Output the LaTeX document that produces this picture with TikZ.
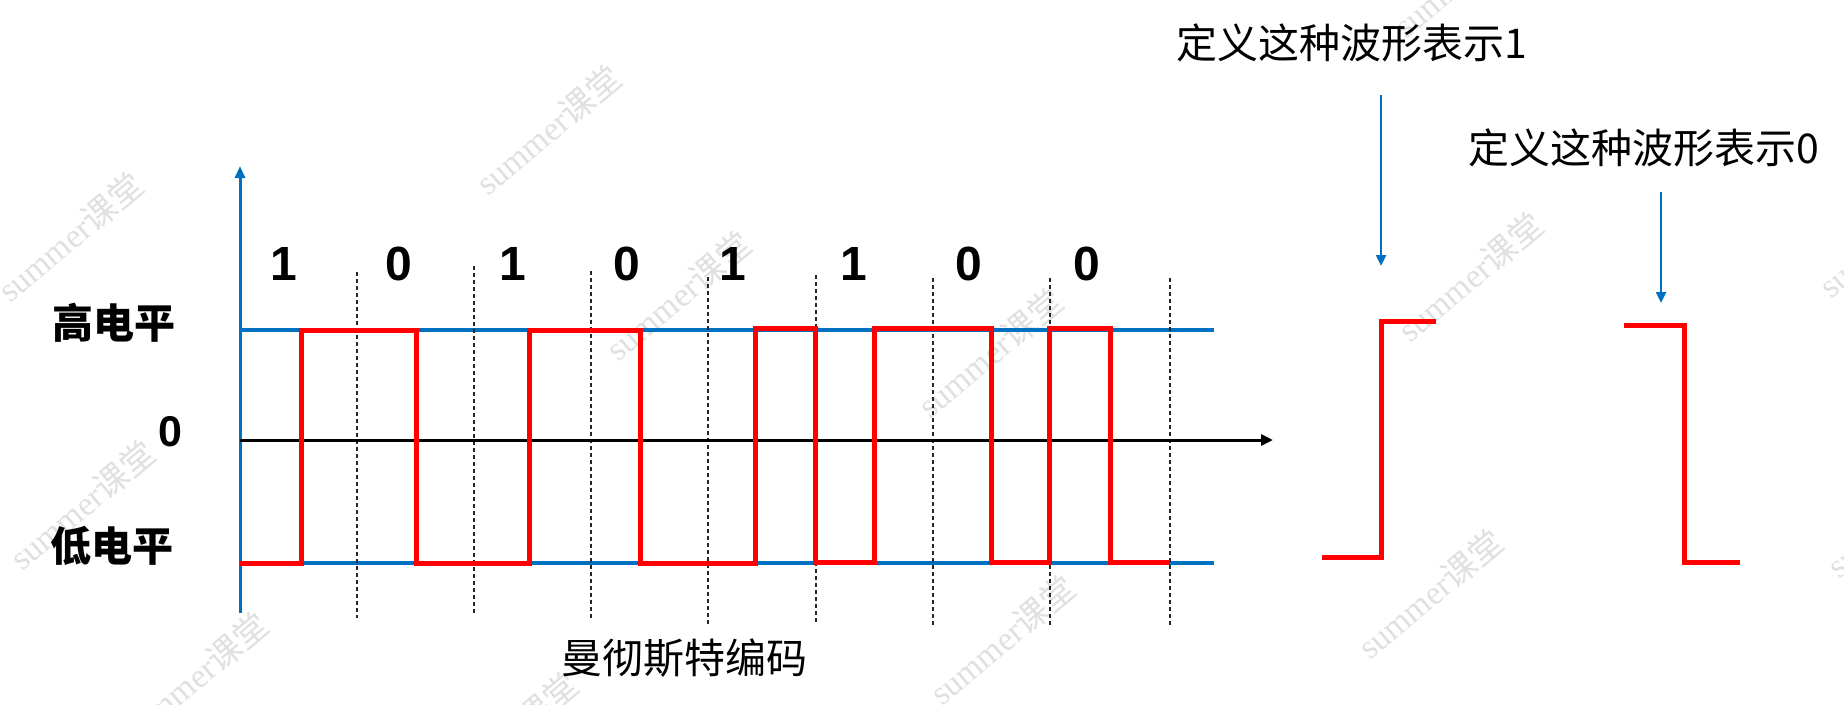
\documentclass[tikz,border=0pt]{standalone}
\usepackage{fontspec}
\setmainfont{Liberation Sans}
\newfontfamily\cjk{Noto Sans CJK SC}
\newfontfamily\wmserif{Liberation Serif}
\usetikzlibrary{arrows.meta}
\definecolor{axblue}{HTML}{0070C0}
\definecolor{sigred}{HTML}{FF0000}
\definecolor{wmgray}{HTML}{E0E0E0}
\begin{document}
\begin{tikzpicture}[x=1pt,y=-1pt,
  lvl/.style={font=\cjk\bfseries\fontsize{41}{41}\selectfont, inner sep=0pt},
  bit/.style={font=\bfseries\fontsize{48}{48}\selectfont, inner sep=0pt},
  zerolbl/.style={font=\bfseries\fontsize{43}{43}\selectfont, inner sep=0pt},
  captxt/.style={font=\cjk\fontsize{41}{41}\selectfont, inner sep=0pt},
  wm/.style={text=wmgray, rotate=40, inner sep=0pt, font=\fontsize{34}{34}\selectfont},
  blueline/.style={draw=axblue, line width=3.5pt},
  axisline/.style={draw=axblue, line width=3pt, -{Triangle[length=12pt,width=10pt]}},
  timeaxis/.style={draw=black, line width=3pt, -{Triangle[length=12pt,width=11pt]}},
  sig/.style={draw=sigred, line width=5pt},
  grid/.style={draw=black!85, line width=1.2pt, dash pattern=on 4pt off 3pt},
  pointer/.style={draw=axblue, line width=2.5pt, -{Triangle[length=11pt,width=10pt]}}
]
\useasboundingbox (0,0) rectangle (1844,704);
\fill[white] (0,0) rectangle (1844,704);
\clip (0,0) rectangle (1844,704);

% watermarks
\foreach \i/\x/\y in {1/70/237, 2/548/130, 3/82/505, 4/195/677, 5/505/737, 6/678/296,
  7/990/353, 8/1002/640, 9/1470/277, 10/1430/594, 11/1891/233, 12/1899/513, 13/1466/-27}
  \node[wm] (wm\i) at (\x,\y) {{\wmserif summer}{\cjk 课堂}};

% level lines
\coordinate (hiL) at (240,330);
\coordinate (hiR) at (1214,330);
\coordinate (loL) at (240,563);
\coordinate (loR) at (1214,563);
\draw[blueline] (hiL) -- (hiR);
\draw[blueline] (loL) -- (loR);

% dashed bit boundaries
\foreach \x/\t/\b in {357/272/618, 474/266/613, 591/271/619, 708/277/625,
  816/275/623, 933/278/627, 1050/278/627, 1170/278/627}
  \draw[grid] (\x,\t) -- (\x,\b);

% axes
\coordinate (yb) at (240,613);
\coordinate (yt) at (240,166);
\draw[axisline] (yb) -- (yt);
\coordinate (xl) at (240,440);
\coordinate (xr) at (1273,440);
\draw[timeaxis] (xl) -- (xr);

% Manchester signal
\draw[sig] (240,563) -- (301,563) -- (301,330) -- (416,330) -- (416,563)
  -- (529,563) -- (529,330) -- (640,330) -- (640,563) -- (755,563)
  -- (755,328) -- (815,328) -- (815,562) -- (874,562) -- (874,328)
  -- (991,328) -- (991,562) -- (1049,562) -- (1049,328) -- (1110,328)
  -- (1110,562) -- (1170,562);

% labels
\node[lvl] (hi) at (114,323) {高电平};
\node[lvl] (lo) at (112,546) {低电平};
\node[zerolbl] (zero) at (170,432) {0};
\foreach \i/\x/\v in {1/284/1, 2/399/0, 3/513/1, 4/627/0, 5/733/1, 6/854/1, 7/969/0, 8/1087/0}
  \node[bit] (b\i) at (\x,264) {\v};
\node[captxt] (title) at (684,658) {曼彻斯特编码};

% definitions on the right
\node[captxt] (def1) at (1352,43) {定义这种波形表示1};
\node[captxt] (def0) at (1644,148) {定义这种波形表示0};
\coordinate (p1s) at (1381,95);
\coordinate (p1e) at (1381,266);
\coordinate (p0s) at (1661,192);
\coordinate (p0e) at (1661,303);
\draw[pointer] (p1s) -- (p1e);
\draw[pointer] (p0s) -- (p0e);

\draw[sig] (1322,557) -- (1381,557) -- (1381,321) -- (1436,321);
\draw[sig] (1624,325) -- (1684,325) -- (1684,562) -- (1740,562);
\end{tikzpicture}
\end{document}
